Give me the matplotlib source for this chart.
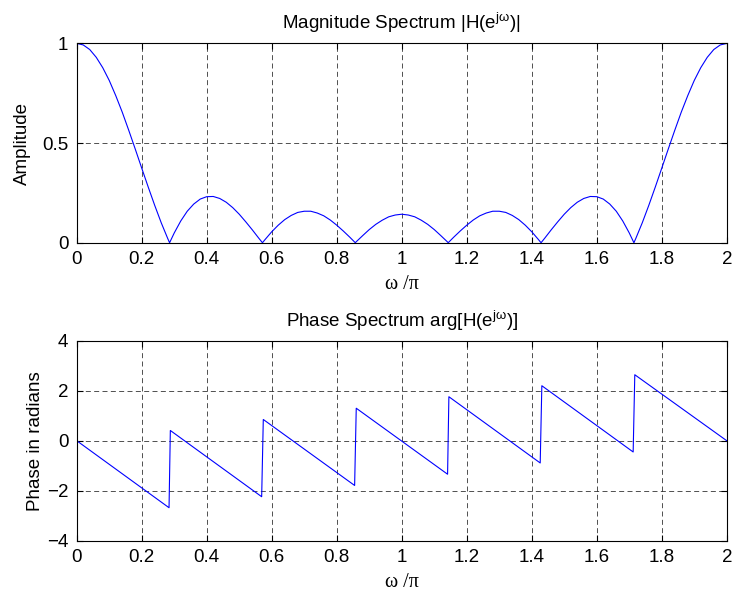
import matplotlib
matplotlib.use("Agg")
import matplotlib.pyplot as plt

plt.rcParams['font.family'] = ['Liberation Sans', 'DejaVu Sans']
plt.rcParams['mathtext.fontset'] = 'custom'
plt.rcParams['mathtext.rm'] = 'Liberation Sans'
plt.rcParams['mathtext.it'] = 'Liberation Sans:italic'

# magnitude |H(e^jw)| (w/pi, amplitude)
mag_w = [0.00, 0.02, 0.04, 0.06, 0.08, 0.10, 0.12, 0.14, 0.16, 0.18, 0.20,
         0.22, 0.24, 0.26, 0.28, 0.2857, 0.30, 0.32, 0.34, 0.36, 0.38, 0.40,
         0.42, 0.44, 0.46, 0.48, 0.50, 0.52, 0.54, 0.56, 0.5714, 0.58, 0.60,
         0.62, 0.64, 0.66, 0.68, 0.70, 0.72, 0.74, 0.76, 0.78, 0.80, 0.82,
         0.84, 0.8571, 0.86, 0.88, 0.90, 0.92, 0.94, 0.96, 0.98, 1.00,
         1.02, 1.04, 1.06, 1.08, 1.10, 1.12, 1.14, 1.1429, 1.16, 1.18, 1.20,
         1.22, 1.24, 1.26, 1.28, 1.30, 1.32, 1.34, 1.36, 1.38, 1.40, 1.42,
         1.4286, 1.44, 1.46, 1.48, 1.50, 1.52, 1.54, 1.56, 1.58, 1.60, 1.62,
         1.64, 1.66, 1.68, 1.70, 1.7143, 1.72, 1.74, 1.76, 1.78, 1.80, 1.82,
         1.84, 1.86, 1.88, 1.90, 1.92, 1.94, 1.96, 1.98, 2.00]
mag_val = [1.000, 0.992, 0.969, 0.930, 0.878, 0.814, 0.738, 0.655, 0.564, 0.470, 0.374,
           0.279, 0.187, 0.100, 0.021, 0.000, 0.049, 0.109, 0.158, 0.194, 0.219, 0.231,
           0.232, 0.222, 0.203, 0.176, 0.143, 0.105, 0.065, 0.023, 0.000, 0.017, 0.055,
           0.088, 0.116, 0.137, 0.152, 0.158, 0.158, 0.149, 0.135, 0.114, 0.088, 0.059,
           0.028, 0.000, 0.005, 0.036, 0.066, 0.092, 0.113, 0.130, 0.139, 0.143,
           0.139, 0.130, 0.113, 0.092, 0.066, 0.036, 0.005, 0.000, 0.028, 0.059, 0.088,
           0.114, 0.135, 0.149, 0.158, 0.158, 0.152, 0.137, 0.116, 0.088, 0.055, 0.017,
           0.000, 0.023, 0.065, 0.105, 0.143, 0.176, 0.203, 0.222, 0.232, 0.231, 0.219,
           0.194, 0.158, 0.109, 0.049, 0.000, 0.021, 0.100, 0.187, 0.279, 0.374, 0.470,
           0.564, 0.655, 0.738, 0.814, 0.878, 0.930, 0.969, 0.992, 1.000]

# phase arg[H(e^jw)] (segment ends and jumps)
ph_w = [0.000, 0.284, 0.288, 0.569, 0.574, 0.855, 0.860, 1.141, 1.145,
        1.426, 1.431, 1.712, 1.717, 2.000]
ph_val = [0.00, -2.68, 0.41, -2.24, 0.85, -1.79, 1.30, -1.34, 1.76,
          -0.89, 2.20, -0.45, 2.64, 0.00]

xt = [0, 0.2, 0.4, 0.6, 0.8, 1, 1.2, 1.4, 1.6, 1.8, 2]
xtl = ['0', '0.2', '0.4', '0.6', '0.8', '1', '1.2', '1.4', '1.6', '1.8', '2']

fig = plt.figure(figsize=(7.35, 5.98), dpi=100)
ax1 = fig.add_axes([0.1044, 0.5941, 0.8844, 0.3334])
ax2 = fig.add_axes([0.1044, 0.0958, 0.8844, 0.3344])

grid_kw = dict(color='black', linestyle=(0, (6, 4)), linewidth=0.6, alpha=0.8)

ax1.plot(mag_w, mag_val, color='blue', linewidth=0.8)
ax1.set_xlim(0, 2)
ax1.set_ylim(0, 1)
ax1.set_yticks([0, 0.5, 1])
ax1.set_yticklabels(['0', '0.5', '1'])
ax1.set_title(r'Magnitude Spectrum |H(e$^{\mathrm{j\omega}}$)|', fontsize=13.5, pad=10)
ax1.set_ylabel('Amplitude', fontsize=13.5, labelpad=8)

ax2.plot(ph_w, ph_val, color='blue', linewidth=0.8)
ax2.set_xlim(0, 2)
ax2.set_ylim(-4, 4)
ax2.set_yticks([-4, -2, 0, 2, 4])
ax2.set_title(r'Phase Spectrum arg[H(e$^{\mathrm{j\omega}}$)]', fontsize=13.5, pad=10)
ax2.set_ylabel('Phase in radians', fontsize=13.5, labelpad=2)

for ax in (ax1, ax2):
    ax.set_xticks(xt)
    ax.set_xticklabels(xtl)
    ax.grid(True, **grid_kw)
    ax.tick_params(direction='in', top=True, right=True, length=4,
                   labelsize=13.5, width=0.8, pad=6)
    for s in ax.spines.values():
        s.set_linewidth(0.8)
    ax.set_xlabel('ω /π', family=['Liberation Serif', 'DejaVu Serif'],
                  fontsize=14.5, labelpad=5)

fig.savefig('out.png', dpi=100)
